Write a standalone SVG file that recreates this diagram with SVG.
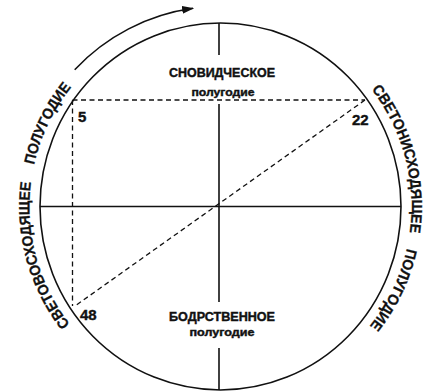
<svg xmlns="http://www.w3.org/2000/svg" width="434" height="392" viewBox="0 0 434 392">
<style>
.ln{stroke:#111;stroke-width:1.6;fill:none}
.ds{stroke:#111;stroke-width:1.3;fill:none;stroke-dasharray:5 3.5}
.lb{font-family:"Liberation Sans",Arial,sans-serif;font-weight:bold;fill:#111;stroke:#111;stroke-width:0.4}
.arc{font-family:"Liberation Sans",Arial,sans-serif;font-weight:bold;font-size:15px;fill:#111;stroke:#111;stroke-width:0.3}
</style>
<defs>
<marker id="ah" viewBox="0 0 12 8" refX="11" refY="4" markerWidth="12" markerHeight="8" markerUnits="userSpaceOnUse" orient="auto">
<path d="M0,0 L12,4 L0,8 Z" fill="#111"/>
</marker>
<path id="lp" d="M85.44,341.56 A191,191 0 0 1 85.44,71.44"/>
<path id="rp" d="M355.56,71.44 A191,191 0 0 1 355.56,341.56"/>
</defs>
<rect width="434" height="392" fill="#fff"/>
<g id="circle">
<ellipse class="ln" cx="220.5" cy="206.5" rx="180.5" ry="183.5" stroke-width="1.8"/>
</g>
<g id="connectors">
<line class="ln" x1="40" y1="206.5" x2="401" y2="206.5"/>
<line class="ln" x1="219" y1="23" x2="219" y2="55"/>
<line class="ln" x1="219" y1="104" x2="219" y2="302"/>
<line class="ln" x1="219" y1="348" x2="219" y2="390"/>
<line class="ds" x1="72.5" y1="100" x2="365" y2="100"/>
<line class="ds" x1="72.5" y1="100" x2="72.5" y2="306"/>
<line class="ds" x1="365" y1="100" x2="75" y2="306"/>
<path class="ln" d="M74.7,69.7 A200,200 0 0 1 193.1,8.3" marker-end="url(#ah)"/>
</g>
<g id="top-label">
<text class="lb" x="222" y="77" font-size="12" text-anchor="middle" textLength="106" lengthAdjust="spacingAndGlyphs">СНОВИДЧЕСКОЕ</text>
<text class="lb" x="223" y="96" font-size="10" text-anchor="middle" textLength="63" lengthAdjust="spacingAndGlyphs">полугодие</text>
</g>
<g id="bottom-label">
<text class="lb" x="222" y="321" font-size="12" text-anchor="middle" textLength="106" lengthAdjust="spacingAndGlyphs">БОДРСТВЕННОЕ</text>
<text class="lb" x="222" y="336" font-size="10" text-anchor="middle" textLength="65" lengthAdjust="spacingAndGlyphs">полугодие</text>
</g>
<g id="p5"><text class="lb" x="78" y="122" font-size="15">5</text></g>
<g id="p22"><text class="lb" x="352" y="125" font-size="15">22</text></g>
<g id="p48"><text class="lb" x="80" y="320" font-size="15">48</text></g>
<g id="left-label">
<text class="arc"><textPath href="#lp" startOffset="98.7" text-anchor="middle" textLength="151" lengthAdjust="spacingAndGlyphs">СВЕТОВОСХОДЯЩЕЕ</textPath></text>
<text class="arc"><textPath href="#lp" startOffset="235.3" text-anchor="middle" textLength="87" lengthAdjust="spacingAndGlyphs">ПОЛУГОДИЕ</textPath></text>
</g>
<g id="right-label">
<text class="arc"><textPath href="#rp" startOffset="100" text-anchor="middle" textLength="152" lengthAdjust="spacingAndGlyphs">СВЕТОНИСХОДЯЩЕЕ</textPath></text>
<text class="arc"><textPath href="#rp" startOffset="235.6" text-anchor="middle" textLength="87" lengthAdjust="spacingAndGlyphs">ПОЛУГОДИЕ</textPath></text>
</g>
</svg>
